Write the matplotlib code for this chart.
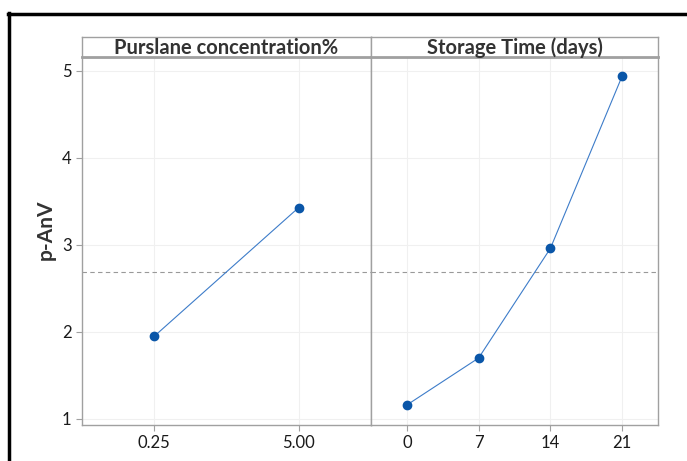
import numpy as np
import matplotlib
matplotlib.use('Agg')
import matplotlib.pyplot as plt
from matplotlib.lines import Line2D

# main effects plot data
conc_labels = ["0.25", "5.00"]
conc_means = [1.95, 3.43]
time_labels = ["0", "7", "14", "21"]
time_means = [1.16, 1.70, 2.96, 4.94]
grand_mean = 2.69

plt.rcParams['font.family'] = ['Lato', 'DejaVu Sans']

fig = plt.figure(figsize=(6.87, 4.61), dpi=100)

W, H = 687, 461
def box(x0, y0, x1, y1):
    return [x0 / W, 1 - y1 / H, (x1 - x0) / W, (y1 - y0) / H]

edge = '#a0a0a0'
grid_c = '#f0f0f0'
line_c = '#3d7cc9'
mark_c = '#0a56a8'

panels = [
    (box(82, 57, 371, 425), box(82, 37, 371, 57), conc_labels, conc_means,
     "Purslane concentration%", (0.5, 2.5)),
    (box(371, 57, 658, 425), box(371, 37, 658, 57), time_labels, time_means,
     "Storage Time (days)", (0.5, 4.5)),
]

for i, (pos, spos, labels, means, title, xl) in enumerate(panels):
    ax = fig.add_axes(pos)
    x = np.arange(1, len(labels) + 1)
    ax.axhline(grand_mean, color='#999999', lw=0.8, ls=(0, (4, 3)), zorder=1)
    ax.plot(x, means, color=line_c, lw=0.8, zorder=2)
    ax.plot(x, means, 'o', color=mark_c, ms=6, zorder=3)
    ax.set_xlim(*xl)
    ax.set_ylim(0.93, 5.16)
    ax.set_xticks(x)
    ax.set_xticklabels(labels, fontsize=12)
    ax.set_yticks([1, 2, 3, 4, 5])
    ax.grid(True, color=grid_c, lw=0.8)
    ax.set_axisbelow(True)
    for s in ax.spines.values():
        s.set_color(edge)
        s.set_linewidth(1.0)
    ax.tick_params(axis='both', color=edge, length=4, width=0.8, labelsize=12,
                   labelcolor='#1a1a1a')
    if i != 0:
        ax.tick_params(axis='y', left=False, labelleft=False)

    sax = fig.add_axes(spos)
    sax.set_xticks([])
    sax.set_yticks([])
    for s in sax.spines.values():
        s.set_color(edge)
        s.set_linewidth(1.0)
    sax.spines['bottom'].set_linewidth(2.0)
    sax.text(0.5, 0.45, title, ha='center', va='center', fontsize=14.5,
             fontweight='bold', color='#333333', transform=sax.transAxes)

fig.text(46 / W, 1 - 230 / H, "p-AnV", rotation=90, ha='center', va='center',
         fontsize=15, fontweight='bold', color='#333333')

# outer black frame (only top and left visible)
fig.add_artist(Line2D([8 / W, 1], [1 - 14 / H, 1 - 14 / H], color='black',
                      lw=2.5, transform=fig.transFigure))
fig.add_artist(Line2D([9 / W, 9 / W], [0, 1 - 13 / H], color='black',
                      lw=2.5, transform=fig.transFigure))

fig.savefig('out.png', dpi=100)
